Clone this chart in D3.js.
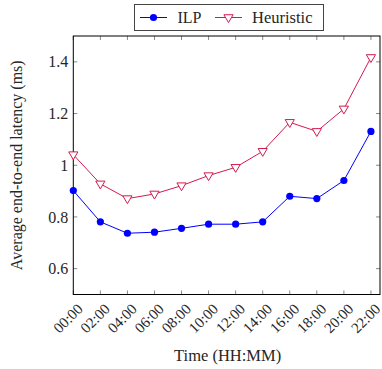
<!DOCTYPE html>
<html><head><meta charset="utf-8">
<script src="https://cdn.jsdelivr.net/npm/d3@7"></script>
<style>body{margin:0;background:#fff}</style>
</head><body><svg id="c" width="382" height="369"></svg>
<script>
const categories = ["00:00","02:00","04:00","06:00","08:00","10:00","12:00","14:00","16:00","18:00","20:00","22:00"];
const ilp = [0.902,0.781,0.737,0.741,0.756,0.772,0.772,0.781,0.880,0.871,0.941,1.131];
const heuristic = [1.041,0.928,0.871,0.889,0.921,0.960,0.992,1.054,1.166,1.131,1.218,1.417];
const yTicks = [0.6,0.8,1.0,1.2,1.4];
const yTickLabels = ["0.6","0.8","1","1.2","1.4"];

const FONT = "Liberation Serif";
const svg = d3.select("#c");
const L=73.3,R=380,T=36,B=294.5;
const x = d3.scaleLinear().domain([0,11.335]).range([L,R]);
const y = d3.scaleLinear().domain([0.5,1.5]).range([B,T]);
const idx = categories.map((d,i)=>i);

const g = svg.append("g");
const tickCol="#888", txtCol="#262626";
idx.forEach(i=>{
  g.append("line").attr("x1",x(i)).attr("x2",x(i)).attr("y1",B).attr("y2",B-4).attr("stroke",tickCol);
  g.append("line").attr("x1",x(i)).attr("x2",x(i)).attr("y1",T).attr("y2",T+4).attr("stroke",tickCol);
  g.append("text").attr("font-family",FONT).attr("fill",txtCol).attr("transform",`translate(${x(i)+3},${B+8}) rotate(-45)`).attr("text-anchor","end").attr("dy","0.7em").attr("font-size",15).text(categories[i]);
});
yTicks.forEach((v,k)=>{
  g.append("line").attr("x1",L).attr("x2",L+4).attr("y1",y(v)).attr("y2",y(v)).attr("stroke",tickCol);
  g.append("line").attr("x1",R).attr("x2",R-4).attr("y1",y(v)).attr("y2",y(v)).attr("stroke",tickCol);
  g.append("text").attr("font-family",FONT).attr("fill",txtCol).attr("x",L-5).attr("y",y(v)).attr("dy","0.35em").attr("text-anchor","end").attr("font-size",16).text(yTickLabels[k]);
});
g.append("rect").attr("x",L).attr("y",T).attr("width",R-L).attr("height",B-T).attr("fill","none").attr("stroke","#000").attr("stroke-width",1);

const blue="#0000ff", red="#d21a4f";
const line = d3.line().x((d,i)=>x(i)).y(d=>y(d));
g.append("path").datum(heuristic).attr("d",line).attr("fill","none").attr("stroke",red).attr("stroke-width",1);
g.append("path").datum(ilp).attr("d",line).attr("fill","none").attr("stroke",blue).attr("stroke-width",1);
const tri = (cx,cy,s)=>`M${cx-s},${cy-s*0.6}L${cx+s},${cy-s*0.6}L${cx},${cy+s*1.1}Z`;
heuristic.forEach((v,i)=>g.append("path").attr("d",tri(x(i),y(v),4.6)).attr("fill","#fff").attr("stroke",red).attr("stroke-width",1));
ilp.forEach((v,i)=>g.append("circle").attr("cx",x(i)).attr("cy",y(v)).attr("r",3.6).attr("fill",blue));

svg.append("text").attr("font-family",FONT).attr("fill",txtCol).attr("x",(L+R)/2+1).attr("y",361).attr("text-anchor","middle").attr("font-size",16.5).text("Time (HH:MM)");
svg.append("text").attr("font-family",FONT).attr("fill",txtCol).attr("transform",`translate(22,${(T+B)/2}) rotate(-90)`).attr("text-anchor","middle").attr("font-size",16).text("Average end-to-end latency (ms)");

const lg = svg.append("g");
lg.append("rect").attr("x",134.5).attr("y",4.5).attr("width",189).attr("height",26).attr("fill","#fff").attr("stroke","#444").attr("stroke-width",1);
lg.append("line").attr("x1",140).attr("x2",167).attr("y1",17.5).attr("y2",17.5).attr("stroke",blue);
lg.append("circle").attr("cx",153.5).attr("cy",17.5).attr("r",3.6).attr("fill",blue);
lg.append("text").attr("font-family",FONT).attr("fill",txtCol).attr("x",177.5).attr("y",17.5).attr("dy","0.35em").attr("font-size",16).text("ILP");
lg.append("line").attr("x1",215).attr("x2",242).attr("y1",17.5).attr("y2",17.5).attr("stroke",red);
lg.append("path").attr("d",tri(228.5,17.5,4.6)).attr("fill","#fff").attr("stroke",red);
lg.append("text").attr("font-family",FONT).attr("fill",txtCol).attr("x",252).attr("y",17.5).attr("dy","0.35em").attr("font-size",16.5).text("Heuristic");
</script></body></html>
